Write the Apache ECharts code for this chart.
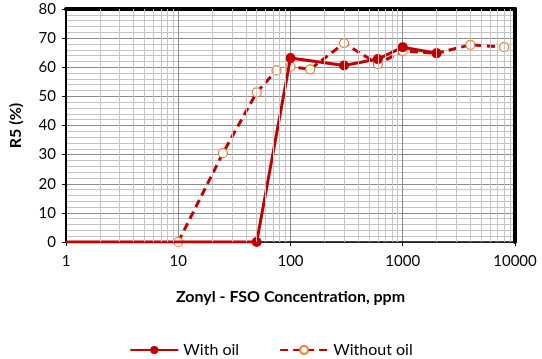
<!DOCTYPE html>
<html>
<head>
<meta charset="utf-8">
<script src="https://cdn.jsdelivr.net/npm/echarts@6/dist/echarts.min.js"></script>
<style>
  html, body { margin: 0; padding: 0; background: #fff; }
  #chart { width: 542px; height: 359px; }
</style>
</head>
<body>
<div id="chart"></div>
<script>
// 数据
var withOilX = [1, 50, 100, 300, 600, 1000, 2000];
var withOilY = [0, 0, 63.2, 60.6, 62.8, 66.9, 64.8];
var withoutOilX = [10, 25, 50, 75, 100, 150, 300, 600, 1000, 2000, 4000, 8000];
var withoutOilY = [0, 30.5, 51.4, 58.9, 60.2, 59.3, 68.3, 61.1, 65.6, 64.8, 67.7, 66.9];
var xTicks = [1, 10, 100, 1000, 10000];
var minorX = [2, 3, 4, 5, 6, 7, 8, 9, 20, 30, 40, 50, 60, 70, 80, 90,
              200, 300, 400, 500, 600, 700, 800, 900, 2000, 3000, 4000, 5000, 6000, 7000, 8000, 9000];

var font = 'Lato';

var chart = echarts.init(document.getElementById('chart'));

var withOilData = withOilX.map(function (x, i) {
    var item = {value: [x, withOilY[i]]};
    if (i === 0) item.symbol = 'none';
    return item;
});
var withoutOilData = withoutOilX.map(function (x, i) {
    return [x, withoutOilY[i]];
});

var option = {
    animation: false,
    textStyle: {fontFamily: font},
    grid: {
        left: 66,
        right: 27,
        top: 9,
        bottom: 117
    },
    legend: {
        top: 337,
        left: 'center',
        itemWidth: 48,
        itemHeight: 10,
        itemGap: 40,
        textStyle: {fontFamily: font, fontSize: 16, color: '#000'},
        data: ['With oil', 'Without oil']
    },
    xAxis: [
        {
            type: 'log',
            logBase: 10,
            min: 1,
            max: 10000,
            name: 'Zonyl - FSO Concentration, ppm',
            nameLocation: 'middle',
            nameGap: 47,
            nameTextStyle: {fontFamily: font, fontSize: 16, fontWeight: 'bold', color: '#000'},
            axisLine: {show: true, onZero: false, lineStyle: {color: '#000', width: 1.5}},
            axisTick: {show: true, length: 4, lineStyle: {color: '#000'}},
            axisLabel: {
                fontSize: 15, color: '#000', margin: 12,
                formatter: function (v) { return xTicks.indexOf(v) >= 0 ? String(v) : ''; }
            },
            splitLine: {show: true, lineStyle: {color: '#8c8c8c', width: 1}}
        },
        {
            type: 'log',
            position: 'top',
            min: 1,
            max: 10000,
            axisLine: {show: true, onZero: false, lineStyle: {color: '#000', width: 4}},
            axisTick: {show: false},
            axisLabel: {show: false},
            splitLine: {show: false}
        }
    ],
    yAxis: [
        {
            type: 'value',
            min: 0,
            max: 80,
            interval: 10,
            name: 'R5 (%)',
            nameLocation: 'middle',
            nameGap: 42,
            nameTextStyle: {fontFamily: font, fontSize: 16, fontWeight: 'bold', color: '#000'},
            axisLine: {show: true, onZero: false, lineStyle: {color: '#000', width: 2}},
            axisTick: {show: true, length: 4, lineStyle: {color: '#000'}},
            axisLabel: {fontSize: 15, color: '#000', margin: 10},
            splitLine: {show: true, lineStyle: {color: '#8c8c8c', width: 1}},
            minorTick: {show: false, splitNumber: 5},
            minorSplitLine: {show: true, lineStyle: {color: '#c4c4c4', width: 1}}
        },
        {
            type: 'value',
            position: 'right',
            min: 0,
            max: 80,
            axisLine: {show: true, onZero: false, lineStyle: {color: '#000', width: 4}},
            axisTick: {show: false},
            axisLabel: {show: false},
            splitLine: {show: false}
        }
    ],
    series: [
        {
            // 对数次网格线
            name: 'minor',
            type: 'line',
            data: [],
            silent: true,
            z: 1,
            markLine: {
                silent: true,
                symbol: 'none',
                label: {show: false},
                lineStyle: {color: '#c4c4c4', type: 'solid', width: 1},
                data: minorX.map(function (v) { return {xAxis: v}; })
            }
        },
        {
            name: 'Without oil',
            type: 'line',
            data: withoutOilData,
            symbol: 'circle',
            symbolSize: 9,
            z: 3,
            lineStyle: {color: '#c00000', width: 3, type: [8, 5]},
            itemStyle: {color: '#fff', borderColor: '#ed7d31', borderWidth: 1.2}
        },
        {
            name: 'With oil',
            type: 'line',
            data: withOilData,
            symbol: 'circle',
            symbolSize: 10,
            z: 4,
            lineStyle: {color: '#c00000', width: 3},
            itemStyle: {color: '#c00000'}
        }
    ]
};

chart.setOption(option);
</script>
</body>
</html>
